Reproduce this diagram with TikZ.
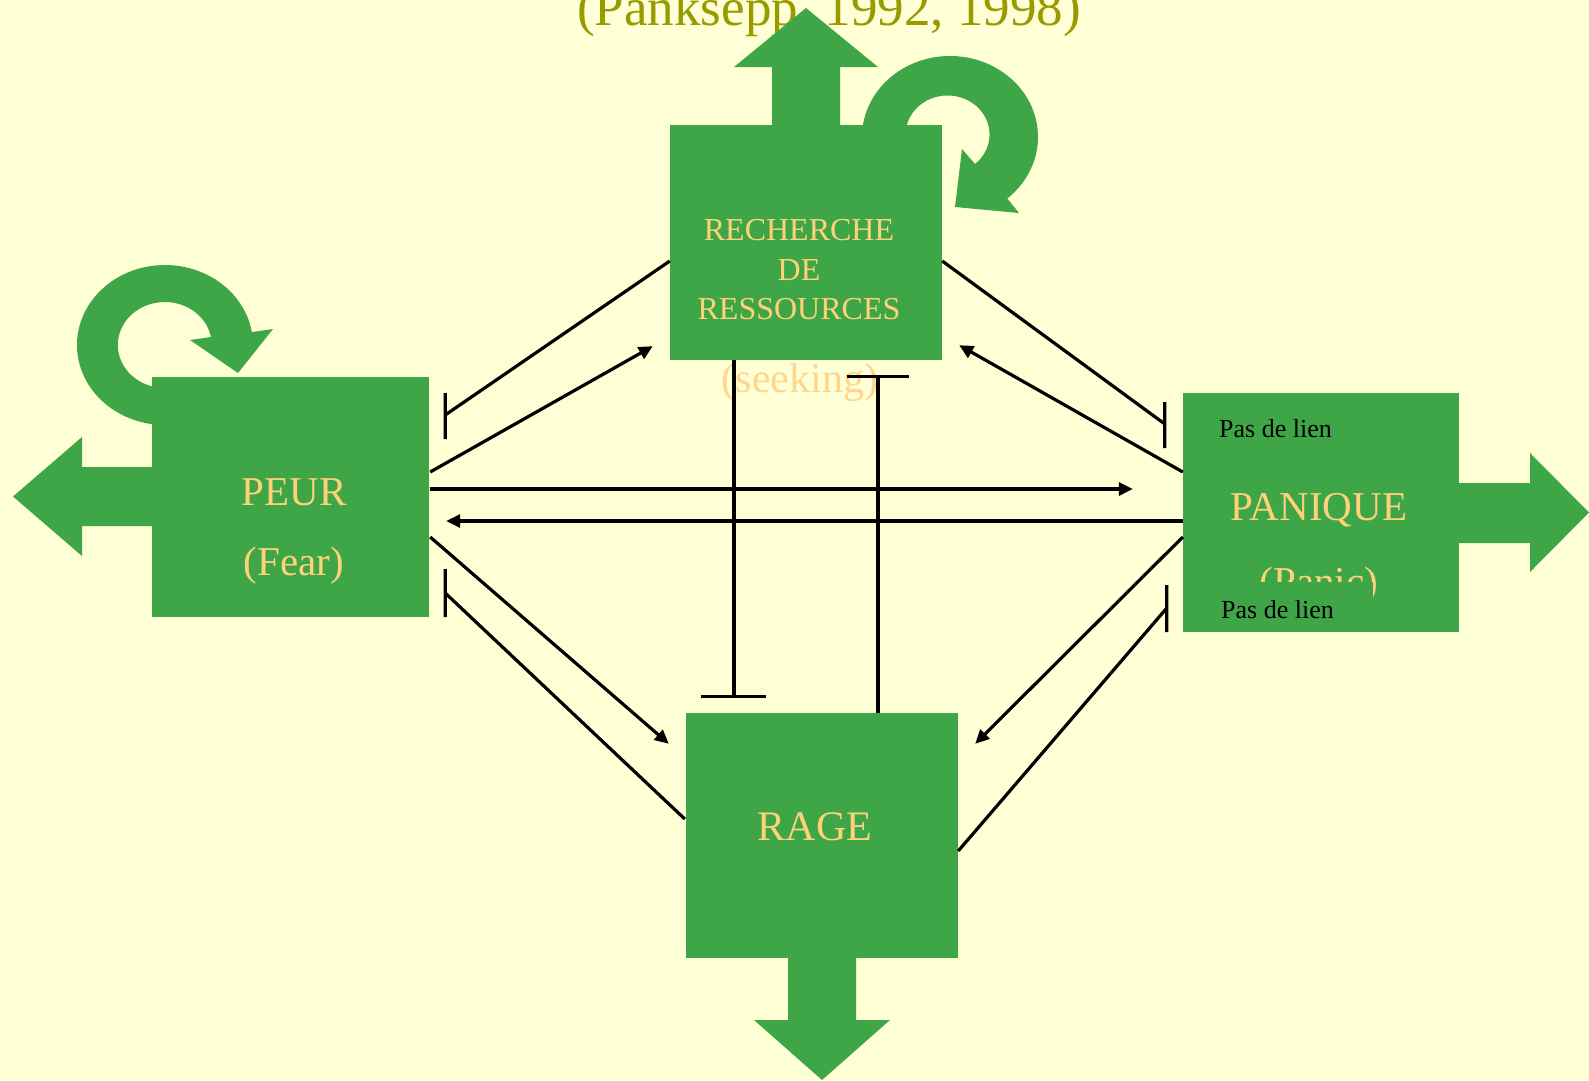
\documentclass[tikz,border=0pt]{standalone}
\usepackage{fontspec}
\setmainfont{Liberation Serif}
\usetikzlibrary{arrows.meta,calc}
\definecolor{bg}{RGB}{255,255,213}
\definecolor{grn}{RGB}{62,166,70}
\definecolor{txt}{RGB}{255,210,122}
\definecolor{seek}{RGB}{255,214,140}
\definecolor{olive}{RGB}{153,153,0}
\begin{document}
\begin{tikzpicture}[x=1pt,y=-1pt,
  box/.style={fill=grn, draw=none, inner sep=0pt, rectangle},
  lbl/.style={text=txt, inner sep=0pt, anchor=base},
  con/.style={line width=3.2pt, draw=black},
  act/.style={con, -{Triangle[length=14pt,width=13pt]}},
  blk/.style={fill=grn, draw=none}]
\useasboundingbox (0,0) rectangle (1589,1080);
\fill[bg] (0,0) rectangle (1589,1080);
% title
\node[text=olive, inner sep=0pt, anchor=base, font=\fontsize{53}{60}\selectfont] (title) at (829,25) {(Panksepp, 1992, 1998)};
% circular arrows (elliptical rings)
\fill[grn] (165,345) ++(80:88 and 80) arc[start angle=80, end angle=350.7, x radius=88, y radius=80]
  -- (273,329) -- (238,373) -- (190,340) -- (211,337)
  arc[start angle=349.3, end angle=80, x radius=47, y radius=43] -- cycle;
\fill[grn] (950,137) ++(170:88 and 81) arc[start angle=170, end angle=409.4, x radius=88, y radius=81]
  -- (1019,213) -- (955,207) -- (962,149) -- (975,164)
  arc[start angle=409.2, end angle=170, x radius=42, y radius=39] -- cycle;
% block arrows
\fill[blk] (772,130) -- (772,67) -- (734,67) -- (806,8) -- (878,67) -- (840,67) -- (840,130) -- cycle;
\fill[blk] (788,950) -- (788,1020) -- (754,1020) -- (822,1080) -- (890,1020) -- (856,1020) -- (856,950) -- cycle;
\fill[blk] (1450,483) -- (1530,483) -- (1530,453) -- (1589,512.5) -- (1530,572) -- (1530,543) -- (1450,543) -- cycle;
\fill[blk] (160,467) -- (82,467) -- (82,437) -- (13,496.5) -- (82,556) -- (82,526) -- (160,526) -- cycle;
% boxes
\node[box, minimum width=272pt, minimum height=235pt] (rech) at (806,242.5) {};
\node[box, minimum width=277pt, minimum height=240pt] (peur) at (290.5,497) {};
\node[box, minimum width=276pt, minimum height=239pt] (pan) at (1321,512.5) {};
\node[box, minimum width=272pt, minimum height=245pt] (rage) at (822,835.5) {};
% texts
\node[lbl, font=\fontsize{32}{38}\selectfont] (r1) at (799,240) {RECHERCHE};
\node[lbl, font=\fontsize{32}{38}\selectfont] (r2) at (799,280) {DE};
\node[lbl, font=\fontsize{32}{38}\selectfont] (r3) at (799,319) {RESSOURCES};
\node[lbl, text=seek, font=\fontsize{42}{48}\selectfont] (seek) at (800,392) {(seeking)};
\node[lbl, font=\fontsize{41}{48}\selectfont] (p1) at (294,505) {PEUR};
\node[lbl, font=\fontsize{41}{48}\selectfont] (p2) at (294,575) {(Fear)};
\node[lbl, font=\fontsize{41}{48}\selectfont] (q1) at (1319,520) {PANIQUE};
\node[lbl, font=\fontsize{41}{48}\selectfont] (q2) at (1319,595) {(Panic)};
\node[lbl, font=\fontsize{42}{48}\selectfont] (g1) at (815,840) {RAGE};
% connectors
\draw[con] ($(rech.west)+(0,18.5)$) -- ($(peur.east)+(16,-82)$) ++(0,-22) -- ++(0,46);
\draw[act] ($(peur.east)+(1,-25)$) -- ($(rech.south west)+(-17,-14)$);
\draw[act] ($(peur.east)+(1,-8)$) -- ($(pan.west)+(-50,-23.5)$);
\draw[act] ($(pan.west)+(0,8.5)$) -- ($(peur.east)+(17,24)$);
\draw[act] ($(peur.east)+(1,40)$) -- ($(rage.north west)+(-17,31)$);
\draw[con] ($(rage.west)+(-1,-16.5)$) -- ($(peur.east)+(16,96)$) ++(0,-24) -- ++(0,48);
\draw[con] ($(rech.east)+(0,18.5)$) -- ($(pan.west)+(-18,-88.5)$) ++(0,-22) -- ++(0,46);
\draw[act] ($(pan.west)+(0,-40.5)$) -- ($(rech.south east)+(17,-15)$);
\draw[act] ($(pan.west)+(0,24.5)$) -- ($(rage.north east)+(17,31)$);
\draw[con] ($(rage.east)+(0,15.5)$) -- ($(pan.west)+(-16,95.5)$) ++(0,-23) -- ++(0,47);
\draw[con] ($(rech.south)+(-72,0)$) -- ($(rage.north)+(-88,-16)$) ++(-33,0) -- ++(65,0);
\draw[con] ($(rage.north)+(56,0)$) -- ($(rech.south)+(72,16)$) ++(-31,0) -- ++(62,0);
% cover and labels
\fill[grn] (1183,582) rectangle (1373,632);
\node[inner sep=0pt, anchor=base west, font=\fontsize{26}{30}\selectfont] (l1) at (1219,437) {Pas de lien};
\node[inner sep=0pt, anchor=base west, font=\fontsize{26}{30}\selectfont] (l2) at (1221,618) {Pas de lien};
\end{tikzpicture}
\end{document}
